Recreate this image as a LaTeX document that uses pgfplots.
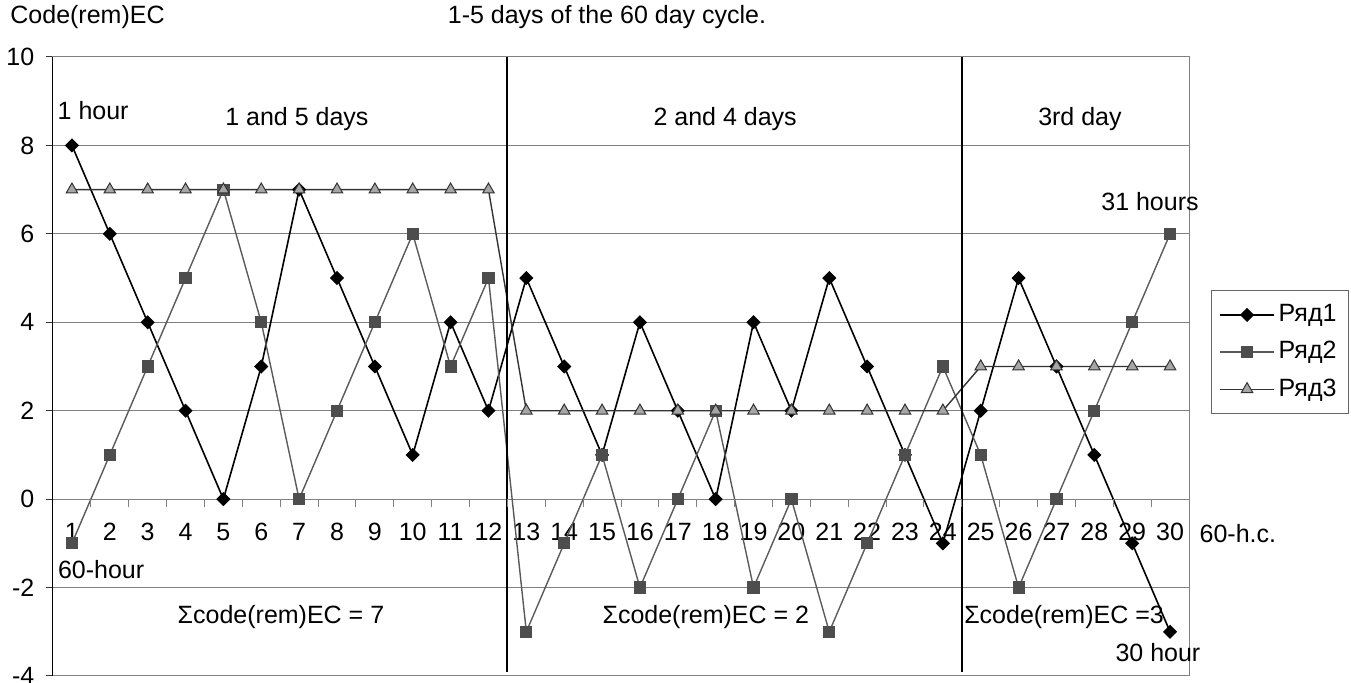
\documentclass[border=0pt]{standalone}
\usepackage{pgfplots}
\pgfplotsset{compat=1.18}
\usepackage{fontspec}
\setmainfont{Liberation Sans}
\definecolor{gridc}{HTML}{808080}
\definecolor{sertwo}{HTML}{5A5A5A}
\definecolor{sertwofill}{HTML}{4D4D4D}
\definecolor{serthree}{HTML}{333333}
\definecolor{serthreefill}{HTML}{A6A6A6}
\begin{document}
\fontsize{12.5}{15}\selectfont
\begin{tikzpicture}
\path[use as bounding box] (0,0) rectangle (675.5pt,341.5pt);
\node[anchor=west,inner sep=0pt] at (5pt,333pt) {Code(rem)EC};
\node[inner sep=0pt] at (303.5pt,333pt) {1-5 days of the 60 day cycle.};
\begin{axis}[
  at={(26.5pt,3.5pt)}, anchor=south west,
  width=568pt, height=309.5pt, scale only axis,
  xmin=0.5, xmax=30.5, ymin=-4, ymax=10,
  xtick={1,...,30}, ytick={-4,-2,...,10},
  yticklabels={-4,-2,0,2,4,6,8,10},
  /pgf/number format/assume math mode=true,
  ymajorgrids, major grid style={gridc, line width=0.5pt},
  axis line style={gridc, line width=0.5pt},
  ytick pos=left, xtick pos=bottom,
  major x tick style={draw=none},
  major y tick style={black!80, line width=0.5pt},
  tick align=outside, major tick length=3.5pt,
  yticklabel style={anchor=east, xshift=-1.5pt},
  xticklabel style={anchor=center, yshift=75.5pt},
  clip=false,
  legend style={at={(1.0194,0.6236)}, anchor=north west, draw=gray!80!black, line width=0.5pt,
    fill=white, legend cell align=left, row sep=4pt, inner xsep=4pt, inner ysep=5pt,
    nodes={inner sep=2pt}},
  legend image code/.code={\draw[mark repeat=2,mark phase=2] plot coordinates {(0cm,0cm)(0.47cm,0cm)(0.94cm,0cm)};},
]
\addplot[black, line width=0.8pt, mark=square*, mark size=2.1pt, mark options={rotate=45, fill=black, draw=black}]
coordinates {(1,8)(2,6)(3,4)(4,2)(5,0)(6,3)(7,7)(8,5)(9,3)(10,1)(11,4)(12,2)(13,5)(14,3)(15,1)(16,4)(17,2)(18,0)(19,4)(20,2)(21,5)(22,3)(23,1)(24,-1)(25,2)(26,5)(27,3)(28,1)(29,-1)(30,-3)};
\addlegendentry{Ряд1}
\addplot[sertwo, line width=0.7pt, mark=square*, mark size=2.7pt, mark options={fill=sertwofill, draw=sertwofill}]
coordinates {(1,-1)(2,1)(3,3)(4,5)(5,7)(6,4)(7,0)(8,2)(9,4)(10,6)(11,3)(12,5)(13,-3)(14,-1)(15,1)(16,-2)(17,0)(18,2)(19,-2)(20,0)(21,-3)(22,-1)(23,1)(24,3)(25,1)(26,-2)(27,0)(28,2)(29,4)(30,6)};
\addlegendentry{Ряд2}
\addplot[serthree, line width=0.7pt, mark=triangle*, mark size=3.3pt, mark options={fill=serthreefill, draw=serthree, line width=0.5pt}]
coordinates {(1,7)(2,7)(3,7)(4,7)(5,7)(6,7)(7,7)(8,7)(9,7)(10,7)(11,7)(12,7)(13,2)(14,2)(15,2)(16,2)(17,2)(18,2)(19,2)(20,2)(21,2)(22,2)(23,2)(24,2)(25,3)(26,3)(27,3)(28,3)(29,3)(30,3)};
\addlegendentry{Ряд3}
\draw[black, line width=0.5pt] (rel axis cs:0,0) -- (rel axis cs:0,1);
\draw[black, line width=1pt] (axis cs:12.5,10) -- (axis cs:12.5,-3.9);
\draw[black, line width=1pt] (axis cs:24.5,10) -- (axis cs:24.5,-3.9);
\pgfplotsinvokeforeach{1.5,2.5,...,30.5}{\draw[gridc, line width=0.5pt] (axis cs:#1,0) -- ++(0pt,-4pt);}
\node at (axis cs:1.56,8.78) {1 hour};
\node at (axis cs:6.94,8.6) {1 and 5 days};
\node at (axis cs:18.25,8.6) {2 and 4 days};
\node at (axis cs:27.62,8.6) {3rd day};
\node at (axis cs:29.47,6.72) {31 hours};
\node at (axis cs:1.77,-1.6) {60-hour};
\node at (axis cs:31.79,-0.77) {60-h.c.};
\node at (axis cs:6.52,-2.67) {Σcode(rem)EC = 7};
\node at (axis cs:17.74,-2.67) {Σcode(rem)EC = 2};
\node at (axis cs:27.2,-2.67) {Σcode(rem)EC =3};
\node at (axis cs:29.68,-3.48) {30 hour};
\end{axis}
\end{tikzpicture}
\end{document}
